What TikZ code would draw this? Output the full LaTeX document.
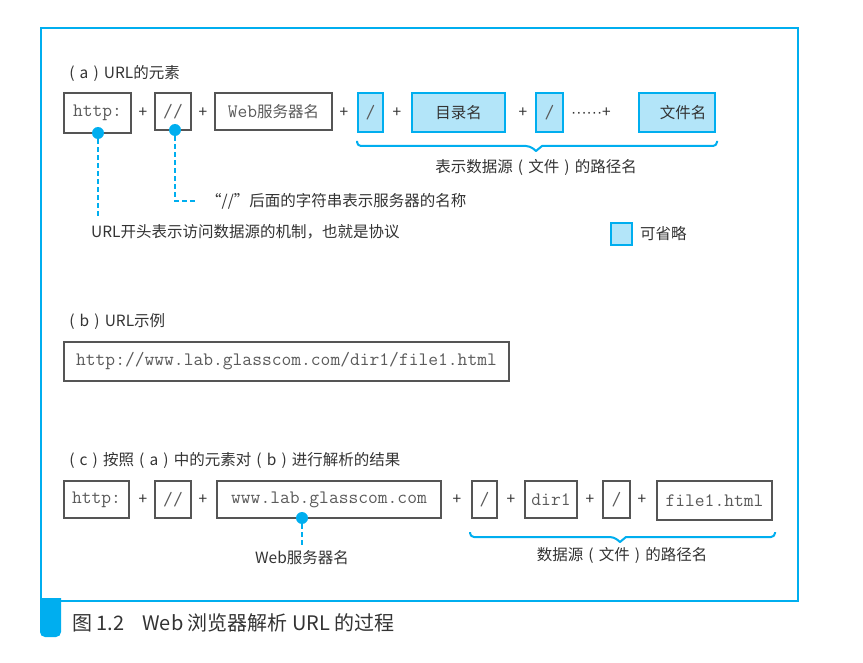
\documentclass[tikz,border=0pt]{standalone}
\usepackage{fontspec}
\setmainfont{Noto Sans CJK SC}
\newfontfamily\latf{Liberation Sans}
\definecolor{cy}{HTML}{00AEEF}
\definecolor{lb}{HTML}{B3E5F9}
\definecolor{bd}{HTML}{555555}
\definecolor{tx}{HTML}{333333}
\definecolor{mt}{HTML}{5A5A5A}
\newcommand\lp{\hbox to 1em{\hfil(\hfil}}
\newcommand\rp{\hbox to 1em{\hfil)\hfil}}
\newcommand\cjkf{\rmfamily\fontsize{15.5}{18}\selectfont}
\newcommand\bx[7]{\node[#6, minimum width={(#4)-(#2)}, minimum height={(#5)-(#3)}] (#1) at ({((#2)+(#4))/2},{((#3)+(#5))/2}) {#7};}
\newcommand\brc[4]{\draw[brace] (#1,#3-5) [rounded corners=4pt] -- (#1,#3) -- (#4-6,#3) [sharp corners] -- (#4,#3+5) -- (#4+6,#3) [rounded corners=4pt] -- (#2,#3) -- (#2,#3-5);}
\tikzset{
  box/.style={draw=bd, line width=1.2pt, inner sep=0pt, text=mt, font=\ttfamily\fontsize{19}{21}\selectfont},
  opt/.style={box, draw=cy, fill=lb, text=tx},
  lbl/.style={text=tx, font=\cjkf, inner sep=0pt},
  captext/.style={text=tx, font=\rmfamily\fontsize{20}{23}\selectfont, inner sep=0pt},
  dot/.style={circle, fill=cy, inner sep=0pt, minimum size=12pt},
  lead/.style={cy, line width=2.5pt, dash pattern=on 5pt off 3pt},
  brace/.style={cy, line width=2pt, line join=round}
}
\begin{document}
\begin{tikzpicture}[x=1pt,y=-1pt]
\useasboundingbox (0,0) rectangle (863,663);
% frame
\draw[cy, line width=2pt] (41,28) rectangle (798,601);
\fill[cy] (40,598) [rounded corners=5pt] -- (40,637) -- (61,637) [sharp corners] -- (61,598) -- cycle;
\node[captext, anchor=west] (caption) at (72,623) {图 1.2\hspace{0.9em}Web 浏览器解析 URL 的过程};

% (a)
\node[lbl, anchor=west] (ha) at (64,73) {\lp a\rp URL的元素};
\bx{a1}{64}{93}{131}{133}{box}{http:}
\node[lbl] (pa1) at (143,113) {+};
\bx{a2}{155}{93}{191}{130}{box}{//}
\node[lbl] (pa2) at (203,113) {+};
\bx{a3}{215}{93}{332}{130}{box}{Web{\cjkf 服务器名}}
\node[lbl] (pa3) at (344,113) {+};
\bx{a4}{358}{93}{383}{132}{opt}{\textcolor{mt}{/}}
\node[lbl] (pa4) at (397,113) {+};
\bx{a5}{412}{93}{505}{132}{opt}{\cjkf 目录名}
\node[lbl] (pa5) at (523,113) {+};
\bx{a6}{536}{93}{563}{132}{opt}{\textcolor{mt}{/}}
\node[lbl, anchor=west] (pa6) at (571,113) {{\latf ······}+};
\bx{a7}{639}{93}{715}{132}{opt}{\cjkf\hspace{12pt}文件名}
\brc{357}{717}{146}{536}
\node[lbl] (pathA) at (536,167) {表示数据源\lp 文件\rp 的路径名};

\node[dot] (d1) at (98,133) {};
\coordinate (c1) at (98,218);
\draw[lead] (d1) -- (c1);
\node[lbl, anchor=west] (t1) at (91,232) {URL开头表示访问数据源的机制，也就是协议};
\node[dot] (d2) at (175,130) {};
\coordinate (c2) at (198,201);
\draw[lead] (d2) |- (c2);
\node[lbl, anchor=west] (t2) at (206,201) {“//”后面的字符串表示服务器的名称};

\bx{lg}{611}{223}{632}{245}{opt}{}
\node[lbl, anchor=west] (lgt) at (640,234) {可省略};

% (b)
\node[lbl, anchor=west] (hb) at (64,322) {\lp b\rp URL示例};
\bx{b1}{64}{342}{509}{381}{box}{http://www.lab.glasscom.com/dir1/file1.html}

% (c)
\node[lbl, anchor=west] (hc) at (64,460) {\lp c\rp 按照\lp a\rp 中的元素对\lp b\rp 进行解析的结果};
\bx{c1b}{64}{481}{129}{518}{box}{http:}
\node[lbl] (pc1) at (143,500) {+};
\bx{c2b}{155}{481}{191}{518}{box}{//}
\node[lbl] (pc2) at (203,500) {+};
\bx{c3b}{217}{481}{441}{518}{box}{www.lab.glasscom.com}
\node[lbl] (pc3) at (457,500) {+};
\bx{c4b}{472}{481}{497}{518}{box}{/}
\node[lbl] (pc4) at (511,500) {+};
\bx{c5b}{525}{481}{577}{518}{box}{dir1}
\node[lbl] (pc5) at (590,500) {+};
\bx{c6b}{603}{481}{630}{518}{box}{/}
\node[lbl] (pc6) at (642,500) {+};
\bx{c7b}{657}{481}{772}{520}{box}{file1.html}
\brc{470}{775}{537}{620}
\node[lbl] (pathC) at (622,555) {数据源\lp 文件\rp 的路径名};

\node[dot] (d3) at (302,518) {};
\coordinate (c3) at (302,546);
\draw[lead] (d3) -- (c3);
\node[lbl] (t3) at (302,558) {Web服务器名};
\end{tikzpicture}
\end{document}
